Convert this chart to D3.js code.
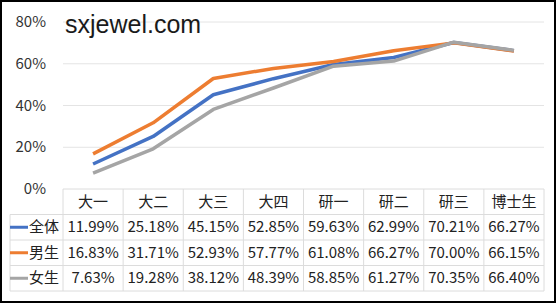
<!DOCTYPE html>
<html>
<head>
<meta charset="utf-8">
<script src="https://cdn.jsdelivr.net/npm/d3@7"></script>
<style>
  body { margin: 0; background: #fff; }
  svg { display: block; }
</style>
</head>
<body>
<svg id="chart"></svg>
<script>
const categories = ["大一", "大二", "大三", "大四", "研一", "研二", "研三", "博士生"];
const seriesNames = ["全体", "男生", "女生"];
const allValues = [11.99, 25.18, 45.15, 52.85, 59.63, 62.99, 70.21, 66.27];
const maleValues = [16.83, 31.71, 52.93, 57.77, 61.08, 66.27, 70.00, 66.15];
const femaleValues = [7.63, 19.28, 38.12, 48.39, 58.85, 61.27, 70.35, 66.40];
const yTicks = [0, 20, 40, 60, 80];
const colors = ["#4472C4", "#ED7D31", "#A5A5A5"];

const series = [allValues, maleValues, femaleValues];

const width = 556, height = 303;
const svg = d3.select("#chart").attr("width", width).attr("height", height);
const font = "'Noto Sans CJK SC', 'Noto Sans', sans-serif";

const x = d3.scaleBand().domain(categories).range([63, 544]);
const y = d3.scaleLinear().domain([0, 80]).range([189, 22]);
const rows = ["header"].concat(seriesNames);
const rowY = d3.scaleBand().domain(rows).range([189, 291]);

// gridlines
svg.append("g")
  .selectAll("line")
  .data(yTicks.filter(d => d > 0))
  .join("line")
  .attr("x1", 63).attr("x2", 544)
  .attr("y1", d => y(d)).attr("y2", d => y(d))
  .attr("stroke", "#e4e4e4").attr("stroke-width", 1);

// y axis labels
svg.append("g")
  .selectAll("text")
  .data(yTicks)
  .join("text")
  .attr("x", 46)
  .attr("y", d => y(d) + 5)
  .attr("text-anchor", "end")
  .attr("font-family", font)
  .attr("font-size", 15)
  .attr("fill", "#333")
  .text(d => d + "%");

// watermark
svg.append("text")
  .attr("x", 65).attr("y", 33)
  .attr("font-family", "'Liberation Sans', Arial, sans-serif")
  .attr("font-size", 25)
  .attr("fill", "#1a1a1a")
  .text("sxjewel.com");

// lines
const line = d3.line()
  .x((d, i) => x(categories[i]) + x.bandwidth() / 2)
  .y(d => y(d));

svg.append("g")
  .selectAll("path")
  .data(series)
  .join("path")
  .attr("d", d => line(d))
  .attr("fill", "none")
  .attr("stroke", (d, i) => colors[i])
  .attr("stroke-width", 3.5)
  .attr("stroke-linejoin", "round");

// data table
const tbl = svg.append("g");
const gridColor = "#dcdcdc";

// horizontal rules
tbl.append("line")
  .attr("x1", 63).attr("x2", 544)
  .attr("y1", rowY("header")).attr("y2", rowY("header"))
  .attr("stroke", gridColor);
tbl.selectAll("line.h")
  .data(seriesNames)
  .join("line")
  .attr("class", "h")
  .attr("x1", 10).attr("x2", 544)
  .attr("y1", d => rowY(d)).attr("y2", d => rowY(d))
  .attr("stroke", gridColor);
tbl.append("line")
  .attr("x1", 10).attr("x2", 544)
  .attr("y1", 291).attr("y2", 291)
  .attr("stroke", gridColor);

// vertical rules
tbl.append("line")
  .attr("x1", 10).attr("x2", 10)
  .attr("y1", rowY("全体")).attr("y2", 291)
  .attr("stroke", gridColor);
tbl.selectAll("line.v")
  .data(categories)
  .join("line")
  .attr("class", "v")
  .attr("x1", d => x(d)).attr("x2", d => x(d))
  .attr("y1", 189).attr("y2", 291)
  .attr("stroke", gridColor);
tbl.append("line")
  .attr("x1", 544).attr("x2", 544)
  .attr("y1", 189).attr("y2", 291)
  .attr("stroke", gridColor);

// header labels
tbl.selectAll("text.cat")
  .data(categories)
  .join("text")
  .attr("class", "cat")
  .attr("x", d => x(d) + x.bandwidth() / 2)
  .attr("y", rowY("header") + rowY.bandwidth() / 2 + 5)
  .attr("text-anchor", "middle")
  .attr("font-family", font)
  .attr("font-size", 15)
  .attr("fill", "#222")
  .text(d => d);

// row legend keys and names
seriesNames.forEach((name, si) => {
  const cy = rowY(name) + rowY.bandwidth() / 2;
  tbl.append("line")
    .attr("x1", 10).attr("x2", 28)
    .attr("y1", cy).attr("y2", cy)
    .attr("stroke", colors[si]).attr("stroke-width", 3);
  tbl.append("text")
    .attr("x", 29).attr("y", cy + 5)
    .attr("font-family", font)
    .attr("font-size", 15)
    .attr("fill", "#222")
    .text(name);
  tbl.selectAll("text.v" + si)
    .data(series[si])
    .join("text")
    .attr("class", "v" + si)
    .attr("x", (d, i) => x(categories[i]) + x.bandwidth() / 2)
    .attr("y", cy + 5)
    .attr("text-anchor", "middle")
    .attr("font-family", font)
    .attr("font-size", 15)
    .attr("fill", "#222")
    .text(d => d.toFixed(2) + "%");
});

// outer frame
svg.append("rect")
  .attr("x", 1).attr("y", 1)
  .attr("width", width - 2).attr("height", height - 2)
  .attr("fill", "none")
  .attr("stroke", "#000")
  .attr("stroke-width", 2);
</script>
</body>
</html>
